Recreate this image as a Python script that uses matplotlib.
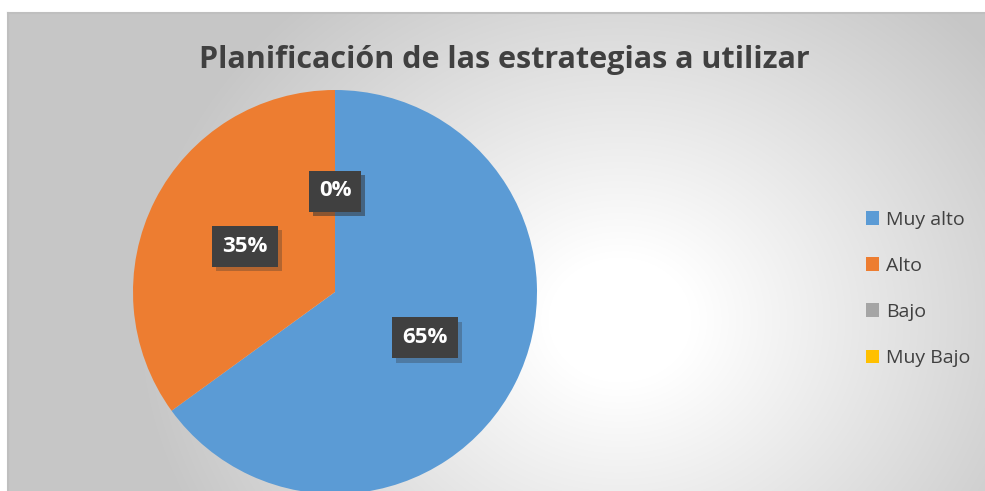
import numpy as np
import matplotlib
matplotlib.use("Agg")
import matplotlib.pyplot as plt
import matplotlib.patheffects as pe

categories = ["Muy alto", "Alto", "Bajo", "Muy Bajo"]
values = [65, 35, 0, 0]
colors = ["#5B9BD5", "#ED7D31", "#A5A5A5", "#FFC000"]
title = "Planificación de las estrategias a utilizar"

W, H = 985, 491
fig = plt.figure(figsize=(W / 100, H / 100), dpi=100)
fig.patch.set_facecolor("white")

# background gradient panel
bx0, by_top = 8, 13
bg = fig.add_axes([bx0 / W, 0, (W - bx0) / W, (H - by_top) / H])
xs = np.arange(bx0, W)
ys = np.arange(by_top, H)
X, Y = np.meshgrid(xs, ys)
d = np.sqrt(((X - 620) / 480.0) ** 2 + ((Y - 320) / 420.0) ** 2)
v = 1 - 0.22 * np.clip((d - 0.15) / 0.85, 0, 1)
img = np.dstack([v, v, v])
bg.imshow(img, aspect="auto", extent=[0, 1, 0, 1], origin="upper")
bg.set_xlim(0, 1)
bg.set_ylim(0, 1)
bg.axis("off")
fig.add_artist(plt.Line2D([bx0 / W, 1], [(H - by_top) / H] * 2, color="#bfbfbf", lw=1.5))
fig.add_artist(plt.Line2D([bx0 / W] * 2, [0, (H - by_top) / H], color="#bfbfbf", lw=1.5))

fig.text(504 / W, 1 - 60 / H, title, ha="center", va="center", fontsize=22,
         fontweight="bold", color="#404040", family="Open Sans")

# pie
cx, cy, r = 335, 292, 202
ax = fig.add_axes([(cx - r) / W, (H - cy - r) / H, 2 * r / W, 2 * r / H])
wedges, texts, autotexts = ax.pie(values, colors=colors, startangle=90, counterclock=False,
                                  autopct=lambda p: f"{p:.0f}%", pctdistance=0.5,
                                  wedgeprops=dict(linewidth=0),
                                  textprops=dict(color="white", fontsize=16, fontweight="bold",
                                                 family="Open Sans"))
ax.set_aspect("equal")
ax.set_xlim(-1, 1)
ax.set_ylim(-1, 1)
for t in autotexts:
    t.set_bbox(dict(boxstyle="square,pad=0.45", facecolor="#404040", edgecolor="none"))
    t.get_bbox_patch().set_path_effects([pe.SimplePatchShadow(offset=(3, -3), alpha=0.3,
                                                              shadow_rgbFace="#303030"),
                                         pe.Normal()])

# legend
leg = fig.legend(wedges, categories, loc="center left",
                 bbox_to_anchor=(848 / W, 1 - 289 / H), frameon=False,
                 handlelength=0.7, handleheight=0.7, handletextpad=0.35,
                 labelspacing=1.45, prop=dict(family="Open Sans", size=14))
for t in leg.get_texts():
    t.set_color("#404040")

fig.savefig("out.png", dpi=100)
